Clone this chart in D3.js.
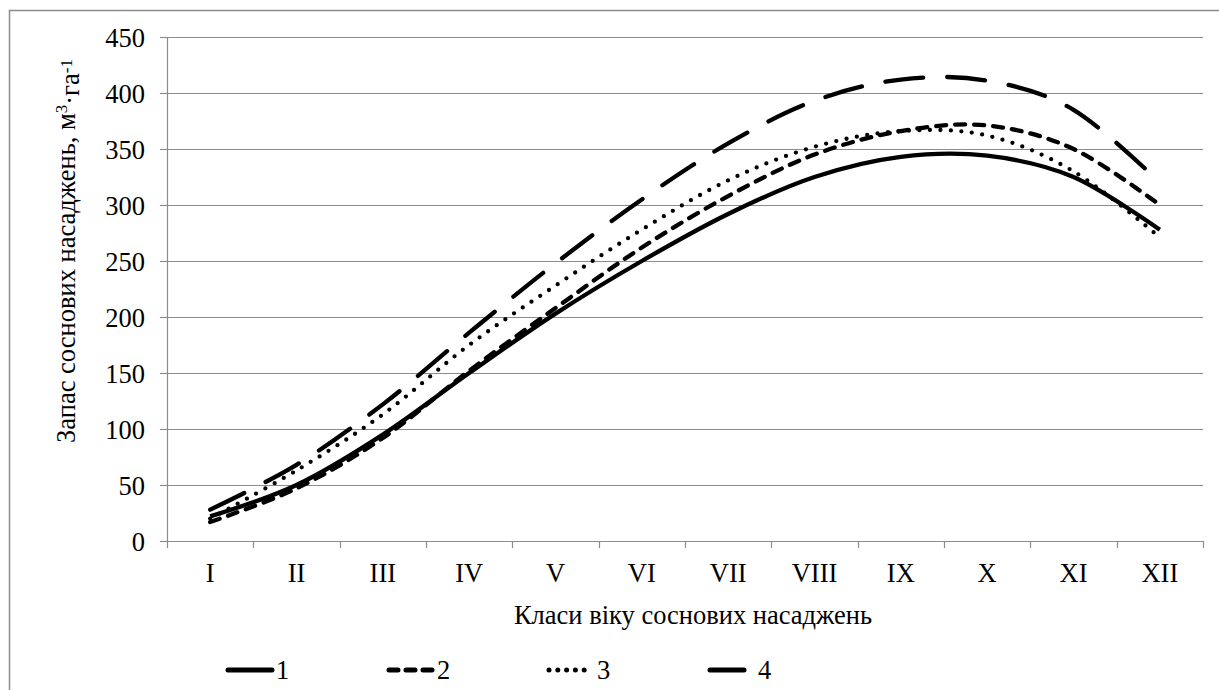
<!DOCTYPE html>
<html>
<head>
<meta charset="utf-8">
<script src="https://cdnjs.cloudflare.com/ajax/libs/d3/7.8.5/d3.min.js"></script>
<style>
  body { margin: 0; background: #fff; }
</style>
</head>
<body>
<div id="chart"></div>
<script>
// Age classes (x categories)
const ageClasses = ["I", "II", "III", "IV", "V", "VI", "VII", "VIII", "IX", "X", "XI", "XII"];

// Growing stock per series, m3/ha
const series1 = [22, 50, 95, 150, 203, 250, 292, 325, 343, 344, 325, 278];
const series2 = [17, 47, 92, 152, 208, 262, 308, 345, 366, 371, 350, 300];
const series3 = [20, 63, 113, 175, 228, 278, 322, 352, 366, 362, 330, 271];
const series4 = [28, 68, 122, 186, 248, 305, 355, 393, 412, 411, 385, 320];

const seriesNames = ["1", "2", "3", "4"];
const yTicks = [0, 50, 100, 150, 200, 250, 300, 350, 400, 450];

const FONT = "'Liberation Serif', 'Times New Roman', 'DejaVu Serif', serif";

const W = 1219, H = 690;
const margin = { top: 37, right: 16, bottom: 149, left: 167 };
const width = W - margin.left - margin.right;
const height = H - margin.top - margin.bottom;

const svg = d3.select("#chart").append("svg")
    .attr("width", W)
    .attr("height", H)
    .style("font-family", FONT);

// outer chart border (right and bottom edges fall outside the picture)
svg.append("rect")
    .attr("x", 9.5).attr("y", 10.5)
    .attr("width", W).attr("height", H)
    .attr("fill", "none")
    .attr("stroke", "#8c8c8c")
    .attr("stroke-width", 1.5);

const g = svg.append("g")
    .attr("transform", "translate(" + margin.left + "," + margin.top + ")");

const x = d3.scaleBand().domain(ageClasses).range([0, width]);
const y = d3.scaleLinear().domain([0, 450]).range([height, 0]);

// horizontal gridlines
g.selectAll(".grid")
    .data(yTicks.filter(d => d > 0))
    .join("line")
    .attr("class", "grid")
    .attr("x1", 0).attr("x2", width)
    .attr("y1", d => Math.round(y(d)) + 0.5)
    .attr("y2", d => Math.round(y(d)) + 0.5)
    .attr("stroke", "#8c8c8c")
    .attr("stroke-width", 1.2);

// y axis
const yAxis = g.append("g")
    .call(d3.axisLeft(y).tickValues(yTicks).tickSize(7).tickPadding(15))
    .attr("font-family", null)
    .style("font-family", FONT);
yAxis.selectAll("text").style("font-size", "26.5px").attr("dy", "0.34em");

// x axis - ticks at band edges
const xAxis = g.append("g")
    .attr("transform", "translate(0," + height + ")")
    .call(d3.axisBottom(x).tickSize(0).tickPadding(22))
    .attr("font-family", null)
    .style("font-family", FONT);
xAxis.selectAll("text").style("font-size", "26.5px");
g.append("g")
    .selectAll("line")
    .data(d3.range(ageClasses.length + 1))
    .join("line")
    .attr("x1", i => Math.round(i * x.step()) + 0.5)
    .attr("x2", i => Math.round(i * x.step()) + 0.5)
    .attr("y1", height).attr("y2", height + 7)
    .attr("stroke", "#8c8c8c")
    .attr("stroke-width", 1.2);

g.selectAll(".domain").attr("stroke", "#8c8c8c").attr("stroke-width", 1.2);
g.selectAll(".tick line").attr("stroke", "#8c8c8c").attr("stroke-width", 1.2);

// axis titles
g.append("text")
    .attr("x", width / 2 + 8)
    .attr("y", height + 83)
    .style("text-anchor", "middle")
    .style("font-size", "26.5px")
    .text("Класи віку соснових насаджень");

const yTitle = g.append("text")
    .attr("transform", "translate(" + (-92) + "," + 214 + ") rotate(-90)")
    .style("text-anchor", "middle")
    .style("font-size", "26.5px");
yTitle.append("tspan").text("Запас соснових насаджень, м");
yTitle.append("tspan").attr("dy", "-0.45em").style("font-size", "17px").text("3");
yTitle.append("tspan").attr("dy", "0.45em").text("·га");
yTitle.append("tspan").attr("dy", "-0.45em").style("font-size", "17px").text("-1");

// line styles
const styles = [
    { dash: null, cap: "butt" },
    { dash: "10 9", cap: "round" },
    { dash: "0 10.5", cap: "round" },
    { dash: "38 24", cap: "round" }
];

const allSeries = [series1, series2, series3, series4];

const line = d3.line()
    .x((d, i) => x(ageClasses[i]) + x.bandwidth() / 2)
    .y(d => y(d))
    .curve(d3.curveCatmullRom.alpha(0));

g.selectAll(".series")
    .data(allSeries)
    .join("path")
    .attr("class", "series")
    .attr("d", d => line(d))
    .attr("fill", "none")
    .attr("stroke", "#000")
    .attr("stroke-width", 4.3)
    .attr("stroke-linecap", (d, i) => styles[i].cap)
    .attr("stroke-dasharray", (d, i) => styles[i].dash);

// legend
const legend = svg.append("g").attr("transform", "translate(0,670)");
const legendX = [228, 389, 549, 710];
seriesNames.forEach((name, i) => {
    legend.append("line")
        .attr("x1", legendX[i]).attr("x2", legendX[i] + 44)
        .attr("y1", 0).attr("y2", 0)
        .attr("stroke", "#000")
        .attr("stroke-width", 5)
        .attr("stroke-linecap", "round")
        .attr("stroke-dasharray", i === 0 ? null : (i === 1 ? "9 8" : (i === 2 ? "0 8.8" : "34 18")));
    legend.append("text")
        .attr("x", legendX[i] + 48)
        .attr("y", 9)
        .style("font-size", "26.5px")
        .text(name);
});
</script>
</body>
</html>
